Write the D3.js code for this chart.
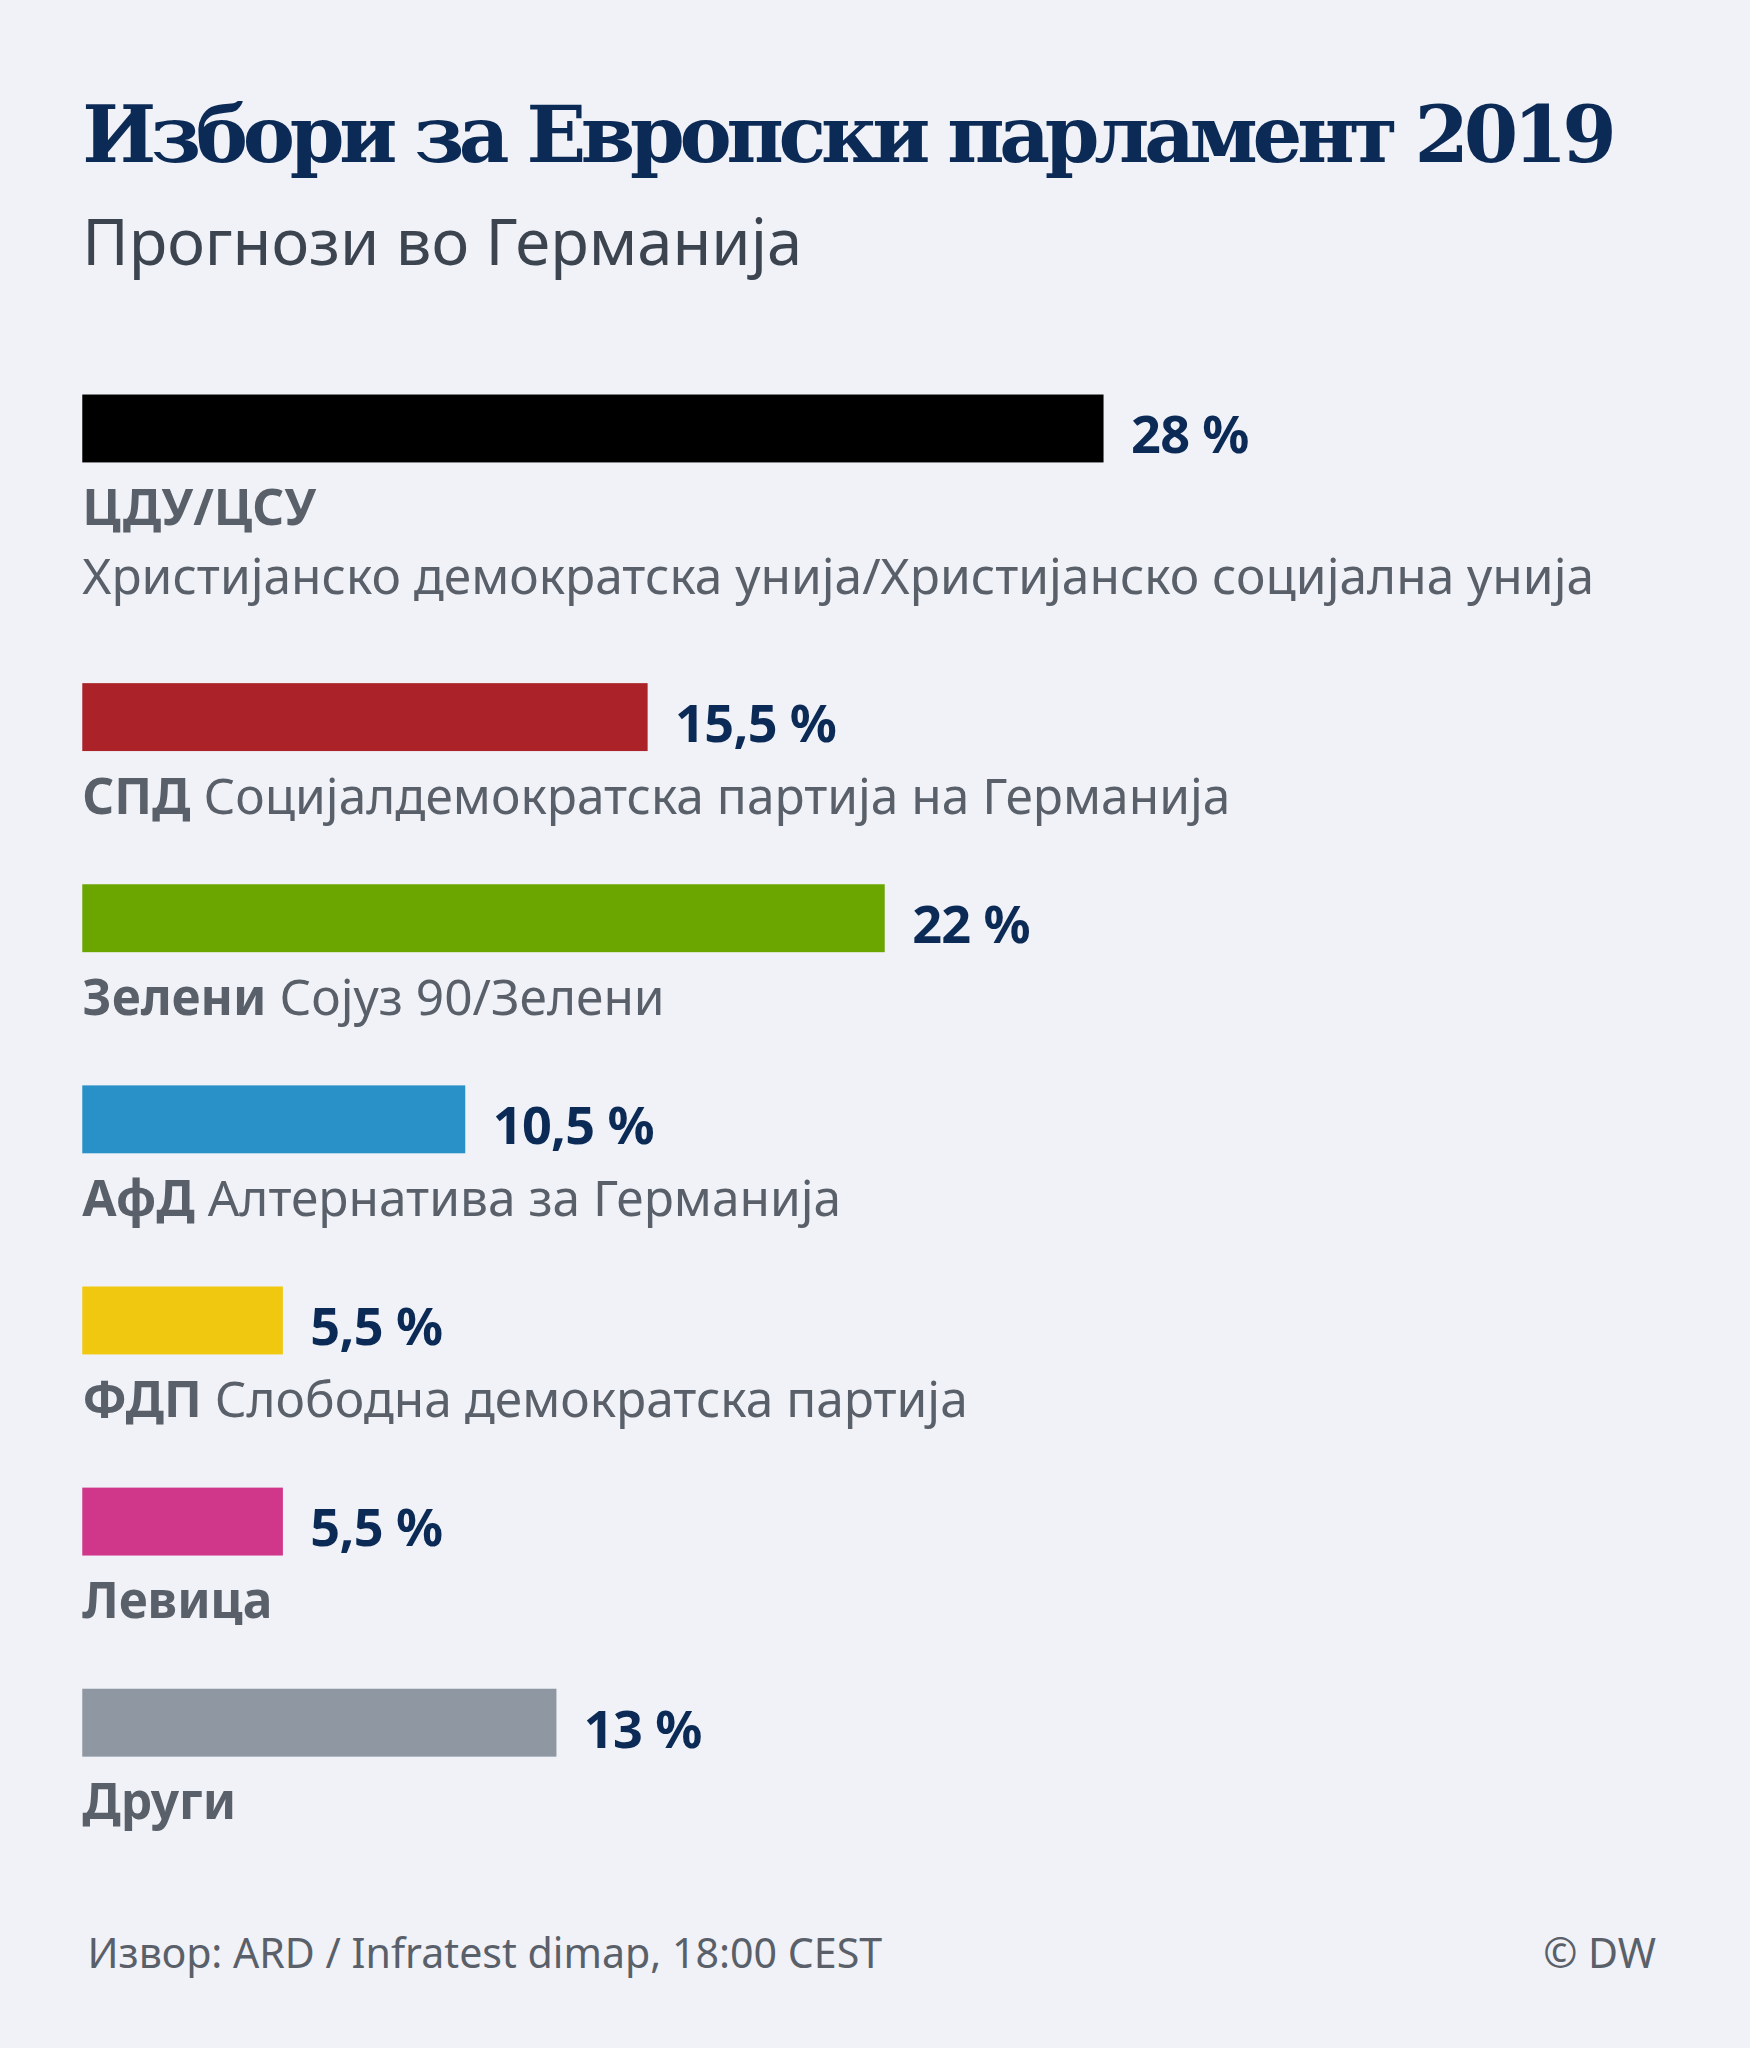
<!DOCTYPE html>
<html><head><meta charset="utf-8">
<script src="https://cdn.jsdelivr.net/npm/d3@7"></script>
<style>body{margin:0;background:#f0f2f7}</style>
</head><body><svg></svg>
<script>
var parties = ["ЦДУ/ЦСУ","СПД","Зелени","АфД","ФДП","Левица","Други"];
var fullNames = ["Христијанско демократска унија/Христијанско социјална унија","Социјалдемократска партија на Германија","Сојуз 90/Зелени","Алтернатива за Германија","Слободна демократска партија","",""];
var values = [28,15.5,22,10.5,5.5,5.5,13];
var valueLabels = ["28 %","15,5 %","22 %","10,5 %","5,5 %","5,5 %","13 %"];
var colors = ["#000000","#ab2328","#6aa500","#2a90c8","#f0c810","#d0368a","#8f97a3"];

var svg = d3.select('svg')
	.attr('width',1750).attr('height',2048)
	.attr('viewBox','0 0 1340 1568')
svg.append('rect').attr('width',1340).attr('height',1568).attr('fill','#f0f2f7')

svg.append('text').attr('x',63).attr('y',124)
	.style('font-family','"DejaVu Serif", serif').style('font-size','60px')
	.style('fill','#0b2a56').style('font-weight','bold').attr('textLength',1175)
	.text('Избори за Европски парламент 2019')
svg.append('text').attr('x',63).attr('y',203)
	.style('font-family','"Noto Sans"').style('font-size','48.5px').style('fill','#3c4450')
	.text('Прогнози во Германија')

var x = d3.scaleLinear().domain([0,28]).range([63,845])
// first row has a second text line, others shifted by that
var row = d3.scaleLinear().domain([0,1]).range([302,456])
function rowTop(i){ return i==0 ? row(0) : row(i)+67 }

var g = svg.selectAll('g.row').data(parties).enter().append('g')
	.attr('transform',function(d,i){return 'translate(0,'+rowTop(i)+')'})

g.append('rect').attr('x',x(0)).attr('y',0).attr('height',52)
	.attr('width',function(d,i){return x(values[i])-x(0)})
	.attr('fill',function(d,i){return colors[i]})

g.append('text').attr('x',function(d,i){return x(values[i])+21}).attr('y',45)
	.style('font-family','"Noto Sans"').style('font-weight','bold').style('font-size','40px')
	.style('fill','#0b2a56').style('letter-spacing','-0.5px')
	.text(function(d,i){return valueLabels[i]})

var lab = g.append('text').attr('x',63).attr('y',100)
	.style('font-family','"Noto Sans"').style('font-size','38px').style('fill','#5a6069')
lab.append('tspan').style('font-weight','bold').text(function(d){return d})
lab.append('tspan').text(function(d,i){return i>0 && fullNames[i] ? ' '+fullNames[i] : ''})
g.filter(function(d,i){return i==0}).append('text').attr('x',63).attr('y',153)
	.style('font-family','"Noto Sans"').style('font-size','38px').style('fill','#5a6069')
	.text(fullNames[0])

svg.append('text').attr('x',67).attr('y',1507)
	.style('font-family','"Noto Sans"').style('font-size','31.5px').style('fill','#5a6069')
	.text('Извор: ARD / Infratest dimap, 18:00 CEST')
svg.append('text').attr('x',1268).attr('y',1507).attr('text-anchor','end')
	.style('font-family','"Noto Sans"').style('font-size','31.5px').style('fill','#5a6069')
	.text('© DW')
</script></body></html>
